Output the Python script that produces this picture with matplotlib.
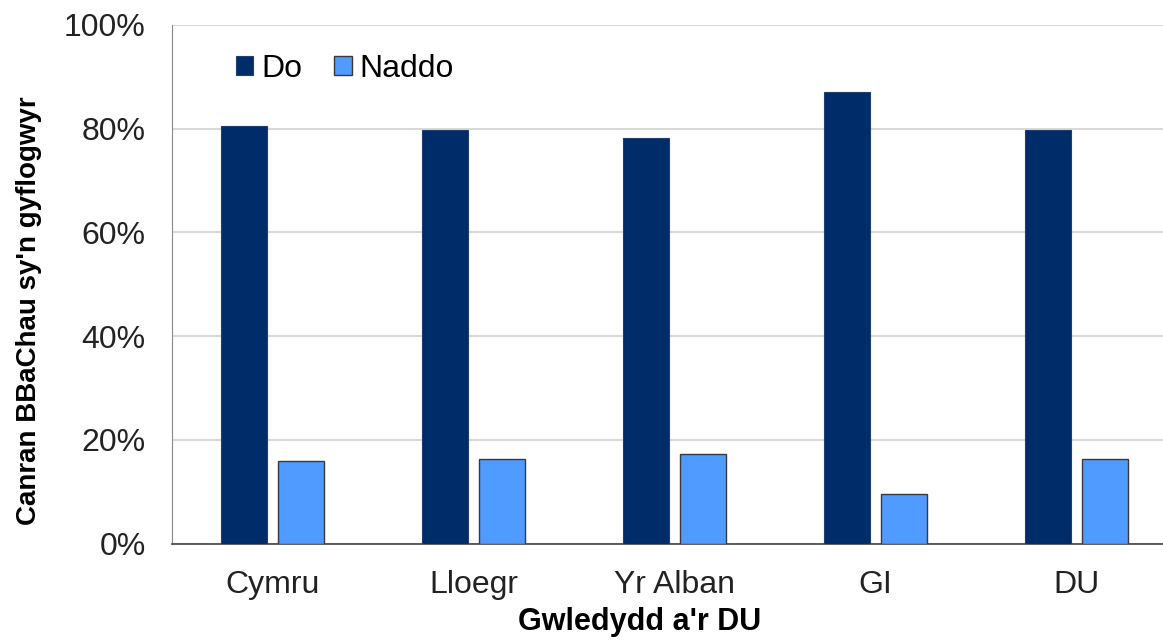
import numpy as np
import matplotlib.pyplot as plt

# data
countries = ["Cymru", "Lloegr", "Yr Alban", "GI", "DU"]
do_vals = [80.5, 79.8, 78.2, 87.0, 79.7]
naddo_vals = [15.9, 16.3, 17.3, 9.6, 16.3]
yticks = [0, 20, 40, 60, 80, 100]

plt.rcParams['font.family'] = ['Liberation Sans', 'DejaVu Sans']

fig = plt.figure(figsize=(11.63, 6.41), dpi=100)
ax = fig.add_axes([0.148, 0.152, 0.852, 0.809])

x = np.arange(len(countries))
w = 0.229
ax.bar(x - 0.143, do_vals, w, color="#002c6a", edgecolor="#1f3f6f", linewidth=0.8, label="Do", zorder=3)
ax.bar(x + 0.143, naddo_vals, w, color="#4f9bff", edgecolor="#3a3a3a", linewidth=1.0, label="Naddo", zorder=3)

ax.set_xlim(-0.5, 4.43)
ax.set_ylim(0, 100)
ax.set_yticks(yticks)
ax.set_yticklabels([f"{t}%" for t in yticks])
ax.set_xticks(x)
ax.set_xticklabels(countries)
ax.tick_params(axis="both", length=0, labelsize=23, colors="#222222")
ax.tick_params(axis="x", pad=19)
ax.tick_params(axis="y", pad=19)
ax.grid(axis="y", color="#d9d9d9", linewidth=1.5, zorder=0)

for s in ["top", "right"]:
    ax.spines[s].set_visible(False)
ax.spines["left"].set_color("#888888")
ax.spines["bottom"].set_color("#444444")
ax.spines["bottom"].set_linewidth(1.2)

ax.set_xlabel("Gwledydd a'r DU", fontsize=22, fontweight="bold")
ax.set_ylabel("Canran BBaChau sy'n gyflogwyr", fontsize=20, fontweight="bold")
ax.xaxis.set_label_coords(0.472, -0.122)
ax.yaxis.set_label_coords(-0.131, 0.45)

ax.legend(loc="upper left", bbox_to_anchor=(0.064, 0.945), ncol=2, frameon=False, fontsize=23,
          borderpad=0, borderaxespad=0,
          handlelength=0.55, handleheight=0.55, handletextpad=0.25, columnspacing=1.0)

fig.savefig("out.png", dpi=100)
